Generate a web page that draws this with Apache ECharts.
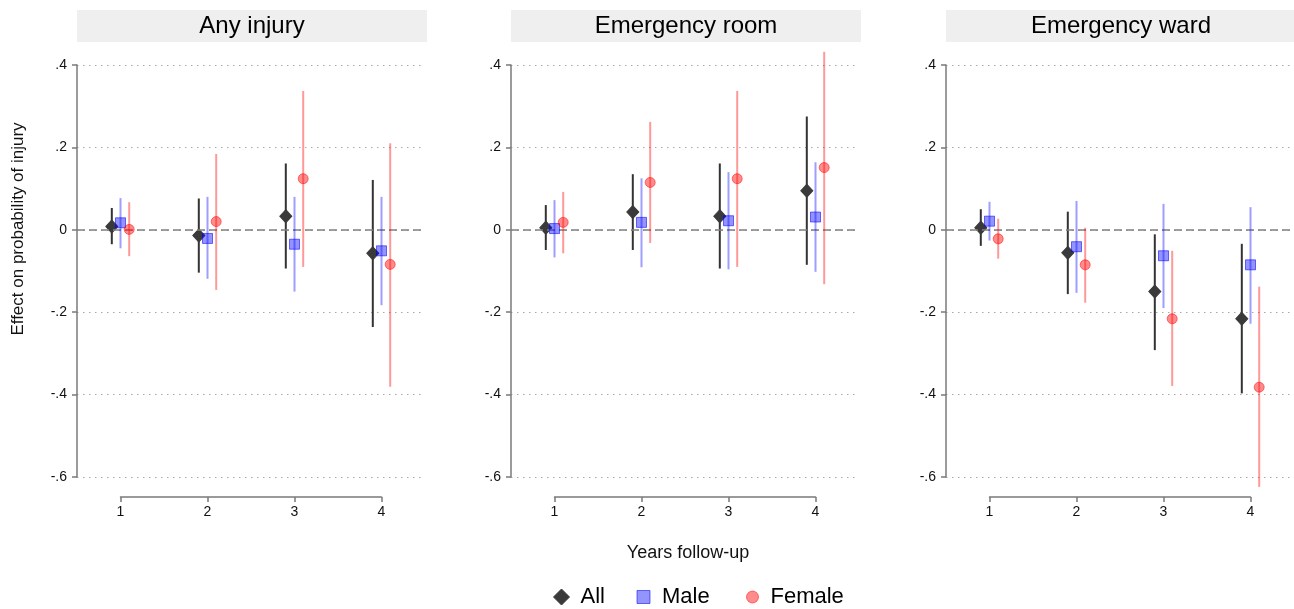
<!DOCTYPE html>
<html>
<head>
<meta charset="utf-8">
<script src="https://cdn.jsdelivr.net/npm/echarts@6/dist/echarts.min.js"></script>
<style>
html,body{margin:0;padding:0;background:#fff;}
#chart{width:1294px;height:609px;}
</style>
</head>
<body>
<div id="chart"></div>
<script>
// ---------------- DATA ----------------
const years = [1, 2, 3, 4];
const panelTitles = ['Any injury', 'Emergency room', 'Emergency ward'];
const groupNames = ['All', 'Male', 'Female'];
const yTicks = [0.4, 0.2, 0, -0.2, -0.4, -0.6];
const yTickLabels = ['.4', '.2', '0', '-.2', '-.4', '-.6'];
const xTickLabels = ['1', '2', '3', '4'];

// Any injury
const anyAllEst = [0.008, -0.014, 0.033, -0.057];
const anyAllLo  = [-0.035, -0.104, -0.094, -0.236];
const anyAllHi  = [0.053, 0.076, 0.161, 0.121];
const anyMaleEst = [0.017, -0.021, -0.035, -0.051];
const anyMaleLo  = [-0.045, -0.119, -0.150, -0.183];
const anyMaleHi  = [0.077, 0.080, 0.080, 0.080];
const anyFemEst = [0.001, 0.020, 0.124, -0.084];
const anyFemLo  = [-0.064, -0.146, -0.090, -0.381];
const anyFemHi  = [0.067, 0.184, 0.337, 0.210];

// Emergency room
const erAllEst = [0.005, 0.043, 0.033, 0.095];
const erAllLo  = [-0.049, -0.049, -0.094, -0.085];
const erAllHi  = [0.060, 0.135, 0.161, 0.275];
const erMaleEst = [0.003, 0.018, 0.022, 0.031];
const erMaleLo  = [-0.067, -0.091, -0.096, -0.102];
const erMaleHi  = [0.072, 0.125, 0.140, 0.164];
const erFemEst = [0.018, 0.115, 0.124, 0.151];
const erFemLo  = [-0.057, -0.032, -0.090, -0.132];
const erFemHi  = [0.092, 0.262, 0.337, 0.432];

// Emergency ward
const ewAllEst = [0.005, -0.056, -0.150, -0.216];
const ewAllLo  = [-0.039, -0.156, -0.292, -0.397];
const ewAllHi  = [0.050, 0.044, -0.011, -0.034];
const ewMaleEst = [0.021, -0.041, -0.063, -0.085];
const ewMaleLo  = [-0.026, -0.153, -0.190, -0.228];
const ewMaleHi  = [0.068, 0.070, 0.063, 0.055];
const ewFemEst = [-0.022, -0.085, -0.216, -0.382];
const ewFemLo  = [-0.070, -0.177, -0.379, -0.624];
const ewFemHi  = [0.027, 0.005, -0.051, -0.138];

const panelData = [
  [[anyAllEst, anyAllLo, anyAllHi], [anyMaleEst, anyMaleLo, anyMaleHi], [anyFemEst, anyFemLo, anyFemHi]],
  [[erAllEst, erAllLo, erAllHi], [erMaleEst, erMaleLo, erMaleHi], [erFemEst, erFemLo, erFemHi]],
  [[ewAllEst, ewAllLo, ewAllHi], [ewMaleEst, ewMaleLo, ewMaleHi], [ewFemEst, ewFemLo, ewFemHi]]
];

// ---------------- STYLE / LAYOUT ----------------
const FONT = '"Liberation Sans", Arial, sans-serif';
const panelLeft = [77, 511, 946];
const panelWidth = 348;
const gridTop = 65;
const gridHeight = 412;
const unitPx = panelWidth / 4;
const groupOffset = [-0.1, 0, 0.1];
const groupStyle = [
  { symbol: 'diamond', size: [12, 13], fill: '#3a3a3a', border: '#3a3a3a', line: '#333333' },
  { symbol: 'rect', size: 10, fill: 'rgba(0,0,255,0.42)', border: 'rgba(0,0,255,0.55)', line: 'rgba(0,0,255,0.38)' },
  { symbol: 'circle', size: 10, fill: 'rgba(255,0,0,0.45)', border: 'rgba(255,0,0,0.5)', line: 'rgba(255,0,0,0.4)' }
];
const axisGray = '#7a7a7a';

function yLabel(v) {
  for (let i = 0; i < yTicks.length; i++) {
    if (Math.abs(v - yTicks[i]) < 1e-6) return yTickLabels[i];
  }
  return '';
}

const grid = [], xAxis = [], yAxis = [], series = [], graphic = [];

panelLeft.forEach((left, p) => {
  grid.push({ left: left, top: gridTop, width: panelWidth, height: gridHeight });
  xAxis.push({ type: 'value', gridIndex: p, min: 0.5, max: 4.5, show: false });
  yAxis.push({
    type: 'value', gridIndex: p, min: -0.6, max: 0.4, interval: 0.2,
    axisLine: { show: true, lineStyle: { color: axisGray, width: 1.5 } },
    axisTick: { show: true, length: 5, lineStyle: { color: axisGray, width: 1.5 } },
    axisLabel: { formatter: yLabel, fontSize: 14, fontFamily: FONT, color: '#111', margin: 10 },
    splitLine: { show: true, lineStyle: { color: '#a8a8a8', width: 1, type: [1.5, 4.5] } }
  });
});

// separate x axes spanning only 1..4, drawn below the plot region
panelLeft.forEach((left, p) => {
  grid.push({ left: left + unitPx / 2, top: gridTop + gridHeight, width: unitPx * 3, height: 20 });
  xAxis.push({
    type: 'value', gridIndex: 3 + p, min: 1, max: 4, interval: 1, position: 'bottom',
    axisLine: { show: true, lineStyle: { color: axisGray, width: 1.5 } },
    axisTick: { show: true, length: 5, lineStyle: { color: axisGray, width: 1.5 } },
    axisLabel: { formatter: v => xTickLabels[years.indexOf(Math.round(v))] || '', fontSize: 14, fontFamily: FONT, color: '#111', margin: 8 },
    splitLine: { show: false }
  });
  yAxis.push({ type: 'value', gridIndex: 3 + p, show: false, min: 0, max: 1 });
});

panelLeft.forEach((left, p) => {
  // zero reference line
  series.push({
    type: 'line', xAxisIndex: p, yAxisIndex: p, data: [], z: 1, silent: true,
    markLine: {
      silent: true, symbol: 'none', label: { show: false },
      lineStyle: { color: '#808080', width: 1.5, type: [8, 4] },
      data: [{ yAxis: 0 }]
    }
  });
  panelData[p].forEach((g, gi) => {
    const [est, lo, hi] = g;
    const st = groupStyle[gi];
    series.push({
      type: 'custom', name: groupNames[gi], xAxisIndex: p, yAxisIndex: p, z: 3 + gi * 2,
      data: years.map((yr, i) => [yr + groupOffset[gi], lo[i], hi[i]]),
      encode: { x: 0, y: [1, 2] },
      renderItem: (params, api) => {
        const x = api.value(0);
        const a = api.coord([x, api.value(1)]);
        const b = api.coord([x, api.value(2)]);
        return { type: 'line', shape: { x1: a[0], y1: a[1], x2: b[0], y2: b[1] }, style: { stroke: st.line, lineWidth: 2 } };
      },
      silent: true
    });
    series.push({
      type: 'scatter', name: groupNames[gi], xAxisIndex: p, yAxisIndex: p, z: 4 + gi * 2,
      symbol: st.symbol, symbolSize: st.size,
      itemStyle: { color: st.fill, borderColor: st.border, borderWidth: 1, opacity: 1 },
      data: years.map((yr, i) => [yr + groupOffset[gi], est[i]]),
      silent: true
    });
  });

  // title strip
  const stripW = p === 2 ? 1294 - 945 : 350;
  graphic.push({ type: 'rect', left: left, top: 10, shape: { width: stripW, height: 32 }, style: { fill: '#efefef' }, z: 0 });
  graphic.push({
    type: 'text', x: left + 175, y: 26,
    style: { text: panelTitles[p], font: '24px ' + FONT, fill: '#000', textAlign: 'center', textVerticalAlign: 'middle' },
    z: 1
  });
});

// axis titles
graphic.push({
  type: 'text', x: 18, y: 229, rotation: Math.PI / 2,
  style: { text: 'Effect on probability of injury', font: '17px ' + FONT, fill: '#111', textAlign: 'center', textVerticalAlign: 'middle' }
});
graphic.push({
  type: 'text', x: 688, y: 553,
  style: { text: 'Years follow-up', font: '18px ' + FONT, fill: '#111', textAlign: 'center', textVerticalAlign: 'middle' }
});

// legends (one per item so each icon keeps its own size)
const legendLayout = [
  { left: 548, w: 16, pad: 6 },
  { left: 631.5, w: 13, pad: 7 },
  { left: 741, w: 12, pad: 7 }
];
const legend = legendLayout.map((l, gi) => ({
  left: l.left, top: 581, orient: 'horizontal',
  itemWidth: l.w, itemHeight: l.w, selectedMode: false,
  data: [{ name: groupNames[gi], icon: groupStyle[gi].symbol,
           itemStyle: { color: groupStyle[gi].fill, borderColor: groupStyle[gi].border, borderWidth: 1 } }],
  textStyle: { fontSize: 22, fontFamily: FONT, color: '#000', lineHeight: 22, padding: [0, 0, 0, l.pad] }
}));

const chart = echarts.init(document.getElementById('chart'), null, { renderer: 'canvas' });
chart.setOption({
  backgroundColor: '#fff',
  animation: false,
  grid, xAxis, yAxis, series, graphic, legend
});
</script>
</body>
</html>
